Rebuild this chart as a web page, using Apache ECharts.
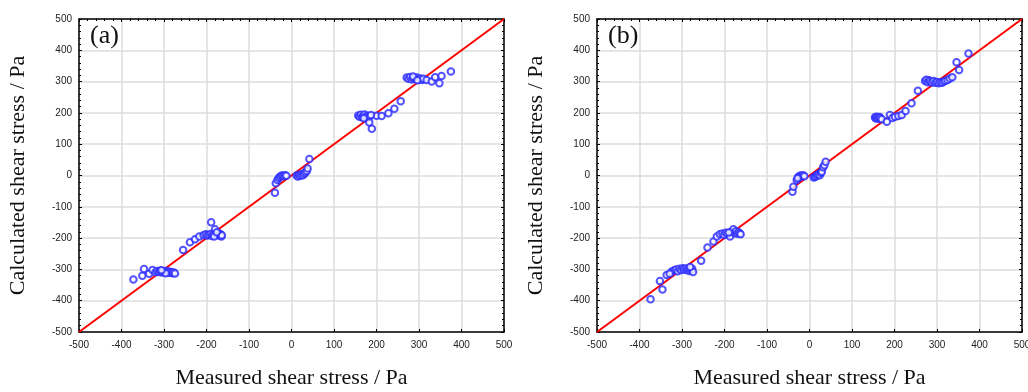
<!DOCTYPE html>
<html>
<head>
<meta charset="utf-8">
<script src="https://cdn.jsdelivr.net/npm/echarts@6/dist/echarts.min.js"></script>
<style>html,body{margin:0;padding:0;background:#fff}#c{width:1028px;height:392px}</style>
</head>
<body>
<div id="c"></div>
<script>
const axisMin = -500, axisMax = 500, axisStep = 100;
const xTitle = 'Measured shear stress / Pa';
const yTitle = 'Calculated shear stress / Pa';
const panelLabels = ['(a)', '(b)'];
const lineEnds = [[-500, -500], [500, 500]];

const pointsA = [
  [-372,-332],[-351,-320],[-347,-299],[-335,-314],[-327,-302],[-320,-309],[-316,-305],[-312,-308],[-309,-304],[-305,-310],
  [-302,-306],[-298,-309],[-295,-305],[-292,-310],[-289,-307],[-286,-311],[-283,-308],[-280,-312],[-277,-310],[-274,-313],
  [-296,-312],[-306,-303],
  [-255,-238],[-239,-213],[-227,-204],[-217,-195],[-207,-191],[-202,-188],[-198,-192],[-194,-190],[-190,-187],[-187,-193],
  [-184,-189],[-189,-149],[-180,-172],[-178,-186],[-175,-190],[-172,-184],[-170,-192],[-167,-188],[-165,-195],[-164,-191],
  [-182,-195],[-176,-181],
  [-39,-55],[-37,-25],[-33,-14],[-30,-8],[-27,-4],[-24,-1],[-21,0],[-18,-2],[-15,1],[-12,-1],
  [12,0],[15,-3],[18,2],[21,-1],[24,4],[27,1],[30,6],[33,10],[36,14],[38,22],[42,53],
  [157,192],[160,188],[163,194],[166,186],[169,190],[172,195],[175,187],[178,191],[181,185],[184,189],
  [183,169],[189,149],[200,191],[212,190],[228,199],[242,213],[257,237],[187,193],[170,183],
  [271,313],[275,309],[279,315],[283,307],[287,311],[291,308],[295,313],[299,306],[303,310],[307,305],
  [310,309],[318,305],[330,300],[338,314],[348,295],[353,318],[375,332],[286,316],[296,304]
];

const pointsB = [
  [-374,-395],[-352,-337],[-346,-364],[-336,-318],[-324,-307],[-318,-303],[-314,-300],[-310,-306],[-306,-298],[-302,-302],
  [-298,-296],[-295,-300],[-291,-297],[-288,-303],[-285,-299],[-282,-305],[-279,-301],[-276,-298],[-274,-308],[-281,-292],
  [-329,-314],
  [-255,-272],[-240,-230],[-226,-211],[-218,-195],[-211,-188],[-205,-185],[-201,-190],[-197,-183],[-193,-187],[-187,-195],
  [-184,-180],[-179,-172],[-176,-184],[-173,-178],[-170,-186],[-167,-181],[-164,-185],[-162,-188],[-190,-182],
  [-40,-52],[-38,-36],[-30,-14],[-27,-6],[-24,-2],[-21,0],[-18,-3],[-15,1],[-12,-2],[-28,-9],
  [10,-6],[13,-4],[16,-2],[19,2],[21,4],[24,1],[27,8],[29,12],[32,26],[35,33],[38,44],
  [154,186],[156,182],[158,188],[160,184],[163,181],[165,187],[167,183],[170,180],[182,172],[189,193],
  [195,184],[201,188],[209,190],[217,193],[226,206],[240,231],[255,271],
  [272,302],[275,306],[278,298],[281,304],[284,300],[288,297],[292,302],[296,296],[300,299],[304,295],
  [308,298],[312,296],[316,300],[320,303],[325,305],[330,310],[336,314],[346,362],[352,337],[374,390]
];

const panels = [pointsA, pointsB];
const gridLefts = [79, 597];

const labelStyle = { fontFamily: 'Liberation Sans, Arial, sans-serif', fontSize: 10, color: '#222' };
const titleStyle = { fontFamily: 'Liberation Serif, Times New Roman, serif', fontSize: 22, color: '#111' };

const grids = [], xAxes = [], yAxes = [], series = [], graphics = [];
panels.forEach((pts, i) => {
  grids.push({ left: gridLefts[i], top: 19, width: 425, height: 313, containLabel: false, outerBoundsMode: 'none' });
  const common = { min: axisMin, max: axisMax, interval: axisStep, gridIndex: i, type: 'value' };
  xAxes.push(Object.assign({}, common, {
    position: 'bottom',
    name: xTitle, nameLocation: 'middle', nameGap: 35, nameTextStyle: titleStyle,
    axisLine: { show: true, onZero: false, lineStyle: { color: '#000', width: 1.5 } },
    axisTick: { show: true, inside: true, length: 3, lineStyle: { color: '#000' } },
    minorTick: { show: false },
    axisLabel: Object.assign({ margin: 8 }, labelStyle),
    splitLine: { show: true, lineStyle: { color: '#dcdcdc', width: 1.5 } }
  }));
  xAxes.push(Object.assign({}, common, {
    position: 'top',
    axisLine: { show: true, onZero: false, lineStyle: { color: '#000', width: 1.5 } },
    axisTick: { show: true, inside: true, length: 3, lineStyle: { color: '#000' } },
    minorTick: { show: true, splitNumber: 5, length: 2, lineStyle: { color: '#000' } },
    axisLabel: { show: false },
    splitLine: { show: false }
  }));
  yAxes.push(Object.assign({}, common, {
    position: 'left',
    name: yTitle, nameLocation: 'middle', nameGap: 50, nameTextStyle: titleStyle,
    axisLine: { show: true, onZero: false, lineStyle: { color: '#000', width: 1.5 } },
    axisTick: { show: true, inside: true, length: 3, lineStyle: { color: '#000' } },
    minorTick: { show: true, splitNumber: 5, length: 2, lineStyle: { color: '#000' } },
    axisLabel: Object.assign({ margin: 7 }, labelStyle),
    splitLine: { show: true, lineStyle: { color: '#dcdcdc', width: 1.5 } }
  }));
  yAxes.push(Object.assign({}, common, {
    position: 'right',
    axisLine: { show: true, onZero: false, lineStyle: { color: '#000', width: 1.5 } },
    axisTick: { show: true, inside: true, length: 3, lineStyle: { color: '#000' } },
    minorTick: { show: true, splitNumber: 5, length: 2, lineStyle: { color: '#000' } },
    axisLabel: { show: false },
    splitLine: { show: false }
  }));
  series.push({
    type: 'line', xAxisIndex: 2 * i, yAxisIndex: 2 * i, data: lineEnds,
    symbol: 'none', lineStyle: { color: '#ff0000', width: 2 }, z: 3, silent: true
  });
  series.push({
    type: 'scatter', xAxisIndex: 2 * i, yAxisIndex: 2 * i, data: pts,
    symbol: 'emptyCircle', symbolSize: 6.5,
    itemStyle: { color: '#2828ff', borderColor: '#2828ff', borderWidth: 0.9 }, z: 4
  });
  graphics.push({
    type: 'text', left: gridLefts[i] + 11, top: 23,
    style: { text: panelLabels[i], font: '26px "Liberation Serif", serif', fill: '#111' }
  });
});

const chart = echarts.init(document.getElementById('c'), null, { renderer: 'canvas' });
chart.setOption({
  animation: false,
  backgroundColor: '#fff',
  grid: grids,
  xAxis: xAxes,
  yAxis: yAxes,
  series: series,
  graphic: graphics
});
</script>
</body>
</html>
